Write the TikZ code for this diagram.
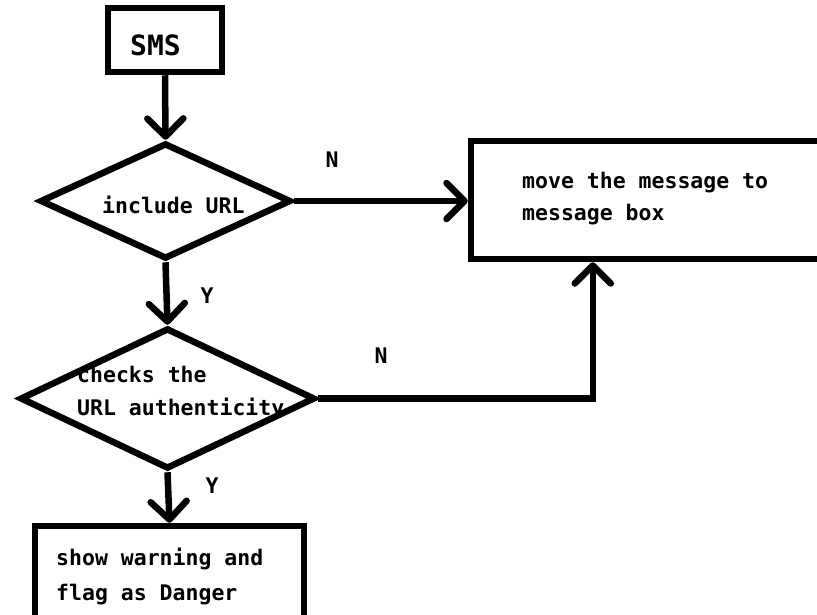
\documentclass[tikz,border=0pt]{standalone}
\usepackage{fontspec}
\setmonofont{DejaVu Sans Mono}
\usetikzlibrary{shapes.geometric,arrows.meta}
\begin{document}
\begin{tikzpicture}[x=1pt,y=-1pt,
  stroke/.style={line width=6.5pt},
  boxnode/.style={draw,stroke,rectangle,inner sep=0pt},
  decision/.style={draw,stroke,diamond,inner sep=0pt},
  txt/.style={inner sep=0pt,anchor=base west,font=\ttfamily\bfseries\fontsize{21.5}{26}\selectfont},
  lbl/.style={inner sep=0pt,anchor=center,font=\ttfamily\bfseries\fontsize{21.5}{26}\selectfont},
  flow/.style={stroke,-{Straight Barb[length=18pt,width=36pt,round]}}]
\useasboundingbox[fill=white] (0,0) rectangle (817,614);

% process boxes and decisions
\node[boxnode,minimum width=114pt,minimum height=64pt] (sms) at (165,40) {};
\node[decision,minimum width=251pt,minimum height=116pt] (d1) at (165.5,201) {};
\node[decision,minimum width=295pt,minimum height=141pt] (d2) at (167.5,398.5) {};
\node[boxnode,minimum width=369pt,minimum height=118pt] (msg) at (655.5,200) {};
\node[boxnode,minimum width=269pt,minimum height=124pt] (warn) at (169.5,588) {};

% texts
\node[inner sep=0pt,anchor=base west,font=\ttfamily\bfseries\fontsize{28}{32}\selectfont] (smstext) at (130,55) {SMS};
\node[txt] (d1text) at (102,213) {include URL};
\node[txt] (d2texta) at (77,382) {checks the};
\node[txt] (d2textb) at (77,415) {URL authenticity};
\node[txt] (msgtexta) at (522,188) {move the message to};
\node[txt] (msgtextb) at (522,220) {message box};
\node[txt] (warntexta) at (56,565) {show warning and};
\node[txt] (warntextb) at (56,600) {flag as Danger};

% branch labels
\node[lbl] (n1) at (332,160) {N};
\node[lbl] (n2) at (381,356) {N};
\node[lbl] (y1) at (207,296) {Y};
\node[lbl] (y2) at (212,486) {Y};

% connectors
\draw[flow] (sms.south) -- (d1.north);
\draw[flow] (d1.south) -- (d2.north);
\draw[flow] (d1.east) -- (d1.east -| msg.west);
\draw[flow] (d2.east) -| ([xshift=125pt]msg.south west);
\draw[flow] (d2.south) -- (warn.north);
\end{tikzpicture}
\end{document}
